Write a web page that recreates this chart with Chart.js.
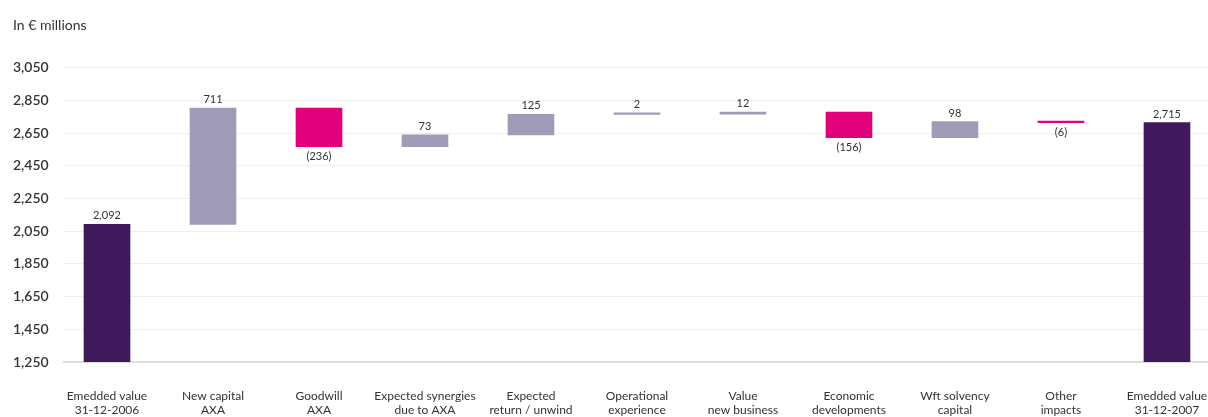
<!DOCTYPE html>
<html>
<head>
<meta charset="utf-8">
<script src="https://cdn.jsdelivr.net/npm/chart.js@4"></script>
<style>
  html, body { margin: 0; padding: 0; background: #fff; }
  #wrap { width: 1208px; height: 417px; position: relative; }
</style>
</head>
<body>
<div id="wrap"><canvas id="grafico"></canvas></div>
<script>
// categories (two lines each)
var categorias = [
    ['Emedded value', '31-12-2006'],
    ['New capital', 'AXA'],
    ['Goodwill', 'AXA'],
    ['Expected synergies', 'due to AXA'],
    ['Expected', 'return / unwind'],
    ['Operational', 'experience'],
    ['Value', 'new business'],
    ['Economic', 'developments'],
    ['Wft solvency', 'capital'],
    ['Other', 'impacts'],
    ['Emedded value', '31-12-2007']
];
// 'total' bars start from the axis, 'delta' bars float
var tipos = ['total', 'delta', 'delta', 'delta', 'delta', 'delta', 'delta', 'delta', 'delta', 'delta', 'total'];
var valores = [2092, 711, -236, 73, 125, 2, 12, -156, 98, -6, 2715];
var rotulos = ['2,092', '711', '(236)', '73', '125', '2', '12', '(156)', '98', '(6)', '2,715'];
var ticksY = [1250, 1450, 1650, 1850, 2050, 2250, 2450, 2650, 2850, 3050];

var corTotal = '#40185c';
var corPositivo = '#a09bb7';
var corNegativo = '#e2007a';

var dados = [];
var cores = [];
var acumulado = 0;
for (let i = 0; i < valores.length; i++) {
    if (tipos[i] == 'total') {
        dados.push({ x: i, y: [ticksY[0], valores[i]] });
        acumulado = valores[i];
        cores.push(corTotal);
    } else {
        var inicio = acumulado;
        acumulado = acumulado + valores[i];
        dados.push({ x: i, y: [inicio, acumulado] });
        cores.push(valores[i] < 0 ? corNegativo : corPositivo);
    }
}

// draws the value labels above / below the bars
var rotulosPlugin = {
    id: 'rotulos',
    afterDatasetsDraw: function (chart) {
        var ctx = chart.ctx;
        var meta = chart.getDatasetMeta(0);
        ctx.save();
        ctx.font = '11px Lato';
        ctx.fillStyle = '#333';
        ctx.textAlign = 'center';
        meta.data.forEach(function (bar, i) {
            var topo = Math.min(bar.y, bar.base);
            var fundo = Math.max(bar.y, bar.base);
            if (valores[i] < 0) {
                ctx.textBaseline = 'top';
                ctx.fillText(rotulos[i], bar.x, fundo + 4);
            } else {
                ctx.textBaseline = 'bottom';
                ctx.fillText(rotulos[i], bar.x, topo - 3);
            }
        });
        ctx.restore();
    }
};

var ctx = document.getElementById('grafico');

var myChart = new Chart(ctx, {
    type: 'bar',
    data: {
        datasets: [{
            data: dados,
            backgroundColor: cores,
            borderWidth: 0,
            barThickness: 46,
            minBarLength: 1.5
        }]
    },
    plugins: [rotulosPlugin],
    options: {
        responsive: true,
        maintainAspectRatio: false,
        animation: false,
        layout: {
            padding: { left: 13, right: 0, top: 0, bottom: 0 }
        },
        plugins: {
            legend: { display: false },
            tooltip: { enabled: false },
            title: {
                display: true,
                text: 'In € millions',
                align: 'start',
                color: '#333',
                font: { family: 'Lato', size: 14, weight: 'normal' },
                padding: { top: 17, bottom: 34 }
            }
        },
        scales: {
            x: {
                type: 'linear',
                offset: false,
                min: -0.415,
                max: 10.387,
                grid: { display: false },
                border: { display: false },
                afterBuildTicks: function (scale) {
                    scale.ticks = categorias.map(function (c, i) { return { value: i }; });
                },
                afterFit: function (scale) {
                    scale.height = 55;
                    scale.paddingLeft = 0;
                    scale.paddingRight = 0;
                },
                ticks: {
                    autoSkip: false,
                    maxRotation: 0,
                    padding: 19,
                    color: '#333',
                    font: { family: 'Lato', size: 12 },
                    callback: function (value) {
                        return categorias[value] || '';
                    }
                }
            },
            y: {
                min: 1250,
                max: 3050,
                border: { display: false },
                afterBuildTicks: function (scale) {
                    scale.ticks = ticksY.map(function (v) { return { value: v }; });
                },
                afterFit: function (scale) {
                    scale.width = 50;
                },
                grid: {
                    drawTicks: false,
                    color: function (c) {
                        return c.tick && c.tick.value == 1250 ? '#dedede' : '#efefef';
                    },
                    lineWidth: function (c) {
                        return c.tick && c.tick.value == 1250 ? 2 : 1;
                    }
                },
                ticks: {
                    padding: 10,
                    align: 'center',
                    crossAlign: 'far',
                    color: '#333',
                    font: { family: 'Lato', size: 14, weight: '600' },
                    callback: function (value) {
                        return value.toLocaleString('en-US');
                    }
                }
            }
        }
    }
});
</script>
</body>
</html>
